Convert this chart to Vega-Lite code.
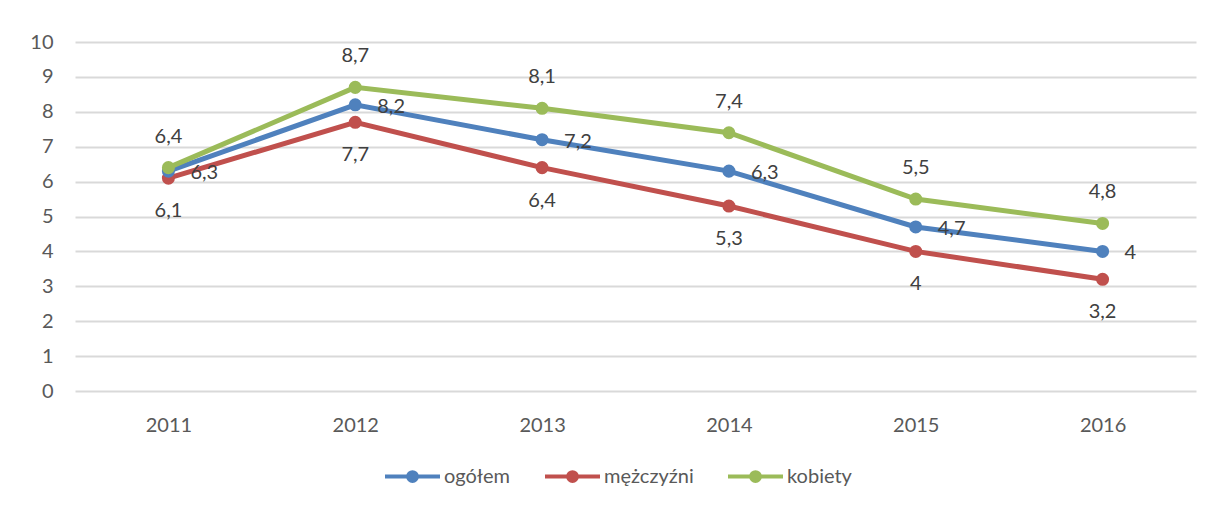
{
  "$schema": "https://vega.github.io/schema/vega-lite/v6.json",
  "width": 1121,
  "height": 349,
  "autosize": {"type": "none"},
  "padding": {"left": 75, "top": 42, "right": 15, "bottom": 115},
  "background": "white",
  "data": {
    "values": [
      {"year": "2011", "series": "mężczyźni", "value": 6.1},
      {"year": "2012", "series": "mężczyźni", "value": 7.7},
      {"year": "2013", "series": "mężczyźni", "value": 6.4},
      {"year": "2014", "series": "mężczyźni", "value": 5.3},
      {"year": "2015", "series": "mężczyźni", "value": 4.0},
      {"year": "2016", "series": "mężczyźni", "value": 3.2},
      {"year": "2011", "series": "ogółem", "value": 6.3},
      {"year": "2012", "series": "ogółem", "value": 8.2},
      {"year": "2013", "series": "ogółem", "value": 7.2},
      {"year": "2014", "series": "ogółem", "value": 6.3},
      {"year": "2015", "series": "ogółem", "value": 4.7},
      {"year": "2016", "series": "ogółem", "value": 4.0},
      {"year": "2011", "series": "kobiety", "value": 6.4},
      {"year": "2012", "series": "kobiety", "value": 8.7},
      {"year": "2013", "series": "kobiety", "value": 8.1},
      {"year": "2014", "series": "kobiety", "value": 7.4},
      {"year": "2015", "series": "kobiety", "value": 5.5},
      {"year": "2016", "series": "kobiety", "value": 4.8}
    ]
  },
  "encoding": {
    "x": {
      "field": "year", "type": "ordinal",
      "scale": {"type": "point", "padding": 0.5},
      "axis": {"title": null, "labelAngle": 0, "ticks": false, "domain": false, "grid": false, "labelPadding": 24}
    },
    "y": {
      "field": "value", "type": "quantitative",
      "scale": {"domain": [0, 10], "nice": false, "zero": true},
      "axis": {"title": null, "values": [0,1,2,3,4,5,6,7,8,9,10], "ticks": false, "domain": false, "grid": true, "labelPadding": 22, "format": "d"}
    }
  },
  "layer": [
    {
      "mark": {"type": "line", "strokeWidth": 5, "point": {"filled": true, "size": 170}},
      "encoding": {
        "color": {
          "field": "series", "type": "nominal",
          "scale": {"domain": ["ogółem", "mężczyźni", "kobiety"], "range": ["#4F81BD", "#C0504D", "#9BBB59"]},
          "legend": {
            "title": null,
            "orient": "none",
            "direction": "horizontal",
            "legendX": 308,
            "legendY": 405,
            "symbolType": "M-1,0L1,0M0.16,0A0.16,0.16,0,1,1,-0.16,0A0.16,0.16,0,1,1,0.16,0Z",
            "symbolSize": 3025,
            "symbolStrokeWidth": 4,
            "labelOffset": 2,
            "columnPadding": 26,
            "labelFont": "Lato",
            "labelFontSize": 20,
            "labelColor": "#595959",
            "encode": {
              "symbols": {
                "update": {
                  "fill": {"scale": "color", "field": "value"},
                  "stroke": {"scale": "color", "field": "value"},
                  "opacity": {"value": 1}
                }
              }
            }
          }
        },
        "detail": {"field": "series"}
      }
    },
    {
      "transform": [{"filter": "datum.series === 'ogółem'"}],
      "mark": {"type": "text", "align": "left", "baseline": "middle", "dx": 22, "dy": 2, "font": "Lato", "fontSize": 20, "color": "#404040"},
      "encoding": {"text": {"field": "value", "type": "quantitative", "format": ".1~f"}}
    },
    {
      "transform": [{"filter": "datum.series === 'mężczyźni'"}],
      "mark": {"type": "text", "align": "center", "baseline": "middle", "dy": 33, "font": "Lato", "fontSize": 20, "color": "#404040"},
      "encoding": {"text": {"field": "value", "type": "quantitative", "format": ".1~f"}}
    },
    {
      "transform": [{"filter": "datum.series === 'kobiety'"}],
      "mark": {"type": "text", "align": "center", "baseline": "middle", "dy": -31, "font": "Lato", "fontSize": 20, "color": "#404040"},
      "encoding": {"text": {"field": "value", "type": "quantitative", "format": ".1~f"}}
    }
  ],
  "config": {
    "locale": {
      "number": {"decimal": ",", "thousands": " ", "grouping": [3], "currency": ["", " zł"]}
    },
    "view": {"stroke": null},
    "axis": {
      "labelFont": "Lato",
      "labelFontSize": 20,
      "labelColor": "#595959",
      "gridColor": "#d9d9d9",
      "gridWidth": 2
    }
  }
}
